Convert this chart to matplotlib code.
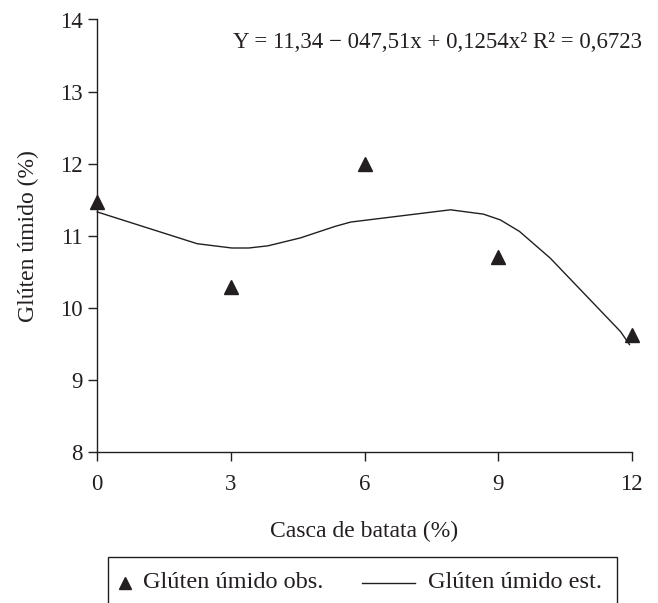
import matplotlib
matplotlib.use("Agg")
import matplotlib.pyplot as plt
from matplotlib.lines import Line2D
from matplotlib.patches import Rectangle

plt.rcParams["font.family"] = ["Liberation Serif", "DejaVu Serif"]

ink = "#231f20"

# observed values
obs_x = [0, 3, 6, 9, 12]
obs_y = [11.47, 10.29, 12.0, 10.71, 9.62]

# estimated curve (vertices)
est_x = [0, 2.24, 3.02, 3.40, 3.83, 4.56, 5.34, 5.69, 7.93, 8.67, 9.05, 9.48, 10.17, 11.75, 11.95]
est_y = [11.33, 10.89, 10.83, 10.83, 10.86, 10.97, 11.13, 11.19, 11.36, 11.30, 11.22, 11.06, 10.69, 9.67, 9.49]

xticks = [0, 3, 6, 9, 12]
yticks = [8, 9, 10, 11, 12, 13, 14]

equation = "Y = 11,34 \u2212 047,51x + 0,1254x\u00b2 R\u00b2 = 0,6723"
fs = 17

W, H = 658, 603
fig = plt.figure(figsize=(W / 100, H / 100), dpi=100)
ax = fig.add_axes([97.3 / W, 1 - 452 / H, (631.7 - 97.3) / W, (452 - 19.5) / H])

ax.plot(est_x, est_y, color=ink, lw=1.0, clip_on=False)
ax.plot(obs_x, obs_y, ls="none", marker="^", ms=10, color=ink, clip_on=False)

ax.set_xlim(0, 12)
ax.set_ylim(8, 14)
ax.set_xticks(xticks)
ax.set_yticks(yticks)
ax.tick_params(direction="out", length=6.5, width=1.0, color=ink, labelcolor=ink,
               labelsize=16.5)
ax.tick_params(axis="x", pad=9)
ax.tick_params(axis="y", pad=4)
for s in ["top", "right"]:
    ax.spines[s].set_visible(False)
for s in ["left", "bottom"]:
    ax.spines[s].set_color(ink)
    ax.spines[s].set_linewidth(1.0)

ax.set_xlabel("Casca de batata (%)", fontsize=fs, color=ink, labelpad=19)
ax.set_ylabel("Glúten úmido (%)", fontsize=fs, color=ink, labelpad=15)

fig.text(642 / W, 1 - 48 / H, equation, ha="right", va="baseline", fontsize=16.5, color=ink)

# legend box (bottom edge falls outside the image)
fig.patches.append(Rectangle((108 / W, 1 - 615 / H), (617 - 108) / W, (615 - 557) / H,
                             transform=fig.transFigure, fill=False, ec=ink, lw=1.0))
ly = 1 - 583 / H
fig.lines.append(Line2D([125 / W], [ly], transform=fig.transFigure, marker="^", ms=8,
                        color=ink, ls="none"))
fig.text(143 / W, ly, "Glúten úmido obs.", ha="left", va="center", fontsize=17.5, color=ink)
fig.lines.append(Line2D([362 / W, 415 / W], [ly, ly], transform=fig.transFigure,
                        color=ink, lw=1.0))
fig.text(428 / W, ly, "Glúten úmido est.", ha="left", va="center", fontsize=17.5, color=ink)

fig.savefig("out.png", dpi=100)
